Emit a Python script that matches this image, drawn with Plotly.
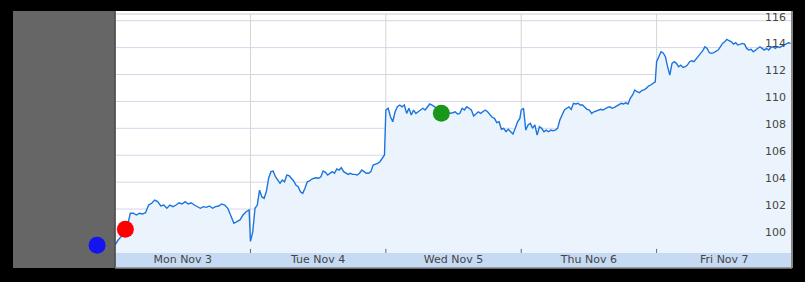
import plotly.graph_objects as go

# ---- data -------------------------------------------------------------
day_labels = ["Mon Nov 3", "Tue Nov 4", "Wed Nov 5", "Thu Nov 6", "Fri Nov 7"]
day_boundaries = [1, 2, 3, 4]
y_ticks = [100, 102, 104, 106, 108, 110, 112, 114, 116]

mon = [99.33, 99.7, 99.95, 100.07, 100.7, 101.69, 101.69, 101.56, 101.69, 101.63,
       101.73, 102.3, 102.43, 102.67, 102.55, 102.23, 102.3, 102.06, 102.3, 102.18,
       102.3, 102.47, 102.38, 102.55, 102.38, 102.47, 102.3, 102.18, 102.06, 102.18,
       102.13, 102.23, 102.06, 102.18, 102.23, 102.38, 102.3, 102.06, 101.43, 100.94,
       101.06, 101.19, 101.56, 101.8, 101.93]
tue = [99.6, 100.3, 102.06, 102.3, 103.4, 102.92, 102.8, 103.3, 104.29, 104.78,
       104.83, 104.4, 104.16, 103.91, 104.16, 104.03, 104.53, 104.48, 104.29, 104.09,
       103.79, 103.66, 103.29, 103.17, 103.54, 104.03, 104.09, 104.23, 104.29, 104.33,
       104.29, 104.4, 104.83, 104.73, 104.53, 104.66, 104.78, 104.66, 104.98, 104.9,
       105.07, 104.78, 104.66, 104.58, 104.66, 104.58, 104.58, 104.53, 104.66, 104.9,
       104.78, 104.66, 104.66, 104.78, 105.27, 105.33, 105.4, 105.52, 105.77, 106.02]
wed = [109.36, 109.49, 108.86, 108.49, 109.23, 109.6, 109.73, 109.6, 109.73, 109.11,
       109.49, 108.99, 109.36, 109.11, 109.23, 109.36, 109.49, 109.36, 109.6, 109.81,
       109.73, 109.6, 109.5, 109.4, 109.3, 109.2, 109.15, 109.1, 109.11, 109.16,
       109.23, 109.06, 109.11, 109.49, 109.36, 109.6, 109.49, 109.36, 108.92, 109.11,
       109.23, 109.11, 109.23, 109.36, 109.23, 108.99, 108.82, 108.74, 108.42, 108.49,
       107.93, 108.0, 107.75, 107.93, 107.75, 107.58, 108.0, 108.49, 108.74]
thu = [109.36, 109.49, 107.87, 108.25, 108.37, 108.0, 108.25, 107.5, 108.12, 108.0,
       107.75, 107.87, 107.75, 107.87, 107.82, 107.87, 108.0, 108.62, 108.99, 109.36,
       109.49, 109.6, 109.41, 109.86, 109.81, 109.86, 109.73, 109.73, 109.56, 109.41,
       109.36, 109.11, 109.23, 109.31, 109.36, 109.41, 109.36, 109.49, 109.56, 109.6,
       109.49, 109.56, 109.66, 109.81, 109.86, 109.81, 109.9, 109.81, 110.23, 110.48,
       110.85, 110.72, 110.65, 110.8, 110.85, 110.97, 111.14, 111.22, 111.34, 111.46]
fri = [112.95, 113.32, 113.69, 113.6, 113.32, 112.58, 111.96, 112.83, 112.95, 112.83,
       112.58, 112.7, 112.53, 112.58, 112.7, 112.95, 113.02, 112.95, 113.2, 113.37,
       113.57, 113.77, 114.06, 113.94, 113.62, 113.57, 113.62, 113.69, 113.82, 114.06,
       114.31, 114.43, 114.61, 114.51, 114.43, 114.26, 114.36, 114.19, 114.26, 114.31,
       114.26, 113.94, 113.82, 113.87, 113.69, 113.82, 113.94, 114.06, 113.94, 113.82,
       113.94, 113.82, 114.01, 114.06, 113.94, 114.06, 114.01, 114.11, 114.19, 114.31,
       114.36, 114.31]
days = [mon, tue, wed, thu, fri]

marker_x = [-0.133, 0.076, 2.41]
marker_y = [99.31, 100.5, 109.12]
marker_colors = ["#1414f0", "#ff0000", "#1a961a"]

# ---- build ------------------------------------------------------------
xs, ys = [], []
for d, vals in enumerate(days):
    n = len(vals)
    for i, v in enumerate(vals):
        xs.append(d + i / (n - 1) * 0.99)
        ys.append(v)

x_range = [-0.754, 5.0]
y_range = [97.62, 116.72]
band_top = 98.74
top_line = 116.497
x_end = 5.0

fig = go.Figure()
fig.add_trace(go.Scatter(x=[0, x_end], y=[band_top, band_top], mode="lines",
                         line=dict(width=0), hoverinfo="skip", showlegend=False))
fig.add_trace(go.Scatter(x=xs, y=ys, mode="lines", fill="tonexty",
                         fillcolor="rgb(235,244,253)",
                         line=dict(color="#1c74de", width=1.4), showlegend=False))
fig.add_trace(go.Scatter(x=marker_x, y=marker_y, mode="markers", cliponaxis=False,
                         marker=dict(size=17, color=marker_colors, line=dict(width=0)),
                         showlegend=False))

shapes = [
    # left gray panel
    dict(type="rect", xref="x", yref="paper", x0=x_range[0], x1=0, y0=0, y1=1,
         fillcolor="#666666", line=dict(width=0), layer="below"),
    # bottom band
    dict(type="rect", xref="x", yref="y", x0=0, x1=x_end, y0=y_range[0], y1=band_top,
         fillcolor="#c6dbf3", line=dict(width=0), layer="below"),
]
# horizontal gridlines
for v in y_ticks:
    shapes.append(dict(type="line", xref="x", yref="y", x0=0, x1=x_end, y0=v, y1=v,
                       line=dict(color="#d6d6ea", width=1), layer="below"))
# vertical day gridlines
for b in day_boundaries:
    shapes.append(dict(type="line", xref="x", yref="y", x0=b, x1=b,
                       y0=band_top, y1=top_line,
                       line=dict(color="#d2d7d2", width=1), layer="below"))
    shapes.append(dict(type="line", xref="x", yref="y", x0=b, x1=b,
                       y0=band_top, y1=band_top + 0.3,
                       line=dict(color="#666666", width=1), layer="above"))
shapes += [
    # top light line
    dict(type="line", xref="x", yref="y", x0=0, x1=x_end, y0=top_line, y1=top_line,
         line=dict(color="#cccccc", width=1), layer="below"),
    # left border
    dict(type="line", xref="x", yref="paper", x0=0, x1=0, y0=0, y1=1,
         line=dict(color="#4a4a4a", width=1.5), layer="above"),
    # right border
    dict(type="line", xref="paper", yref="paper", x0=1, x1=1, y0=0, y1=1,
         line=dict(color="#888888", width=2), layer="above"),
    # bottom border
    dict(type="line", xref="x", yref="paper", x0=0, x1=x_end, y0=0, y1=0,
         line=dict(color="#888888", width=1.5), layer="above"),
]

fig.update_layout(
    width=805, height=282,
    margin=dict(l=13, r=13, t=11, b=14),
    paper_bgcolor="#000000", plot_bgcolor="#ffffff",
    shapes=shapes,
    font=dict(family="DejaVu Sans", size=11, color="#111111"),
    xaxis=dict(range=x_range, tickmode="array",
               tickvals=[i + 0.5 for i in range(len(day_labels))],
               ticktext=day_labels, ticks="", showgrid=False, zeroline=False,
               ticklabelposition="inside", ticklabelstandoff=0,
               ticklabeloverflow="allow",
               showline=False, fixedrange=True),
    yaxis=dict(range=y_range, side="right", tickmode="array", tickvals=y_ticks,
               ticktext=[str(v) for v in y_ticks], ticks="",
               ticklabelposition="inside", ticklabelstandoff=3, ticklabelshift=-4,
               ticklabeloverflow="allow",
               showgrid=False, zeroline=False, showline=False, fixedrange=True),
)

fig.write_html("out.html")
